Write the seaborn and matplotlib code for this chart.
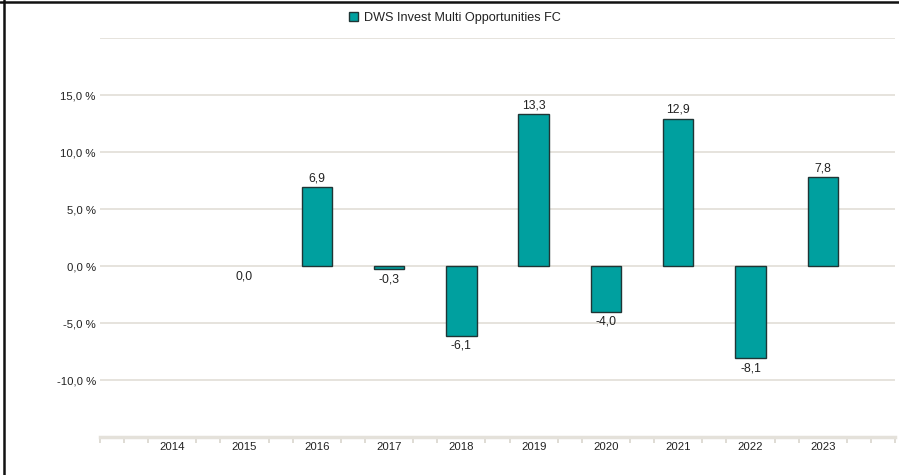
import numpy as np
import pandas as pd
import matplotlib
matplotlib.use("Agg")
import matplotlib.pyplot as plt
from matplotlib.patches import Patch
from matplotlib.lines import Line2D
import seaborn as sns

years = ["2014", "2015", "2016", "2017", "2018", "2019", "2020", "2021", "2022", "2023"]
bar_years = ["2015", "2016", "2017", "2018", "2019", "2020", "2021", "2022", "2023"]
returns = [0.0, 6.9, -0.3, -6.1, 13.3, -4.0, 12.9, -8.1, 7.8]
series_name = "DWS Invest Multi Opportunities FC"
y_ticks = [-10, -5, 0, 5, 10, 15, 20]

teal = "#00a09f"
grid_col = "#e4e1da"
text_col = "#222222"

sns.set_theme(style="white")
plt.rcParams['font.family'] = ['Liberation Sans', 'DejaVu Sans']

df = pd.DataFrame({"year": bar_years, "ret": returns})

fig = plt.figure(figsize=(8.99, 4.75), dpi=100)
ax = fig.add_axes([100 / 899, 1 - 437 / 475, 795 / 899, 399 / 475])

sns.barplot(data=df, x="year", y="ret", order=years, color=teal,
            width=0.42, edgecolor="#1f3535", linewidth=1.0, saturation=1, ax=ax)

for p in ax.patches:
    if p.get_height() == 0:
        p.set_linewidth(0)

# value labels
for yr, v in zip(bar_years, returns):
    xpos = years.index(yr)
    lab = f"{v:.1f}".replace(".", ",")
    off = 9 if v > 0 else -10
    ax.annotate(lab, xy=(xpos, v), xytext=(0, off * 0.72), textcoords="offset points",
                ha="center", va="center", fontsize=8.7, color=text_col)

ax.set_xlim(-1, 10)
ax.set_ylim(-15, 20)
ax.set_yticks(y_ticks)
ax.set_yticklabels([f"{t:.1f} %".replace(".", ",") if t != 20 else "" for t in y_ticks])
ax.yaxis.grid(True, color=grid_col, linewidth=1.3)
ax.set_axisbelow(True)
ax.tick_params(axis="y", length=0, pad=3, labelsize=8.2, labelcolor=text_col)

minor = [k / 3 for k in range(-3, 31) if k % 3 != 0 or k in (-3, 30)]
ax.set_xticks(minor, minor=True)
ax.tick_params(axis="x", which="major", bottom=True, length=0, pad=3.5, labelsize=8.2,
               labelcolor=text_col)
ax.tick_params(axis="x", which="minor", bottom=True, length=4, width=1.3, color="#dcd9d1",
               direction="out")

for s in ["top", "right", "left"]:
    ax.spines[s].set_visible(False)
ax.spines["bottom"].set_color(grid_col)
ax.spines["bottom"].set_linewidth(2.5)
ax.set_xlabel("")
ax.set_ylabel("")

handle = Patch(facecolor=teal, edgecolor="#1f3535", linewidth=1.0)
fig.legend([handle], [series_name], loc="center", bbox_to_anchor=(455 / 899, 1 - 18 / 475),
           frameon=False, fontsize=9.1, handlelength=0.75, handleheight=0.75,
           handletextpad=0.5, labelcolor=text_col)

# outer frame (left and top)
fig.add_artist(Line2D([3.5 / 899, 3.5 / 899], [0, 1], transform=fig.transFigure,
                      color="#111111", linewidth=1.8))
fig.add_artist(Line2D([0, 1], [1 - 1.5 / 475, 1 - 1.5 / 475], transform=fig.transFigure,
                      color="#111111", linewidth=1.8))

fig.savefig("out.png", dpi=100)
